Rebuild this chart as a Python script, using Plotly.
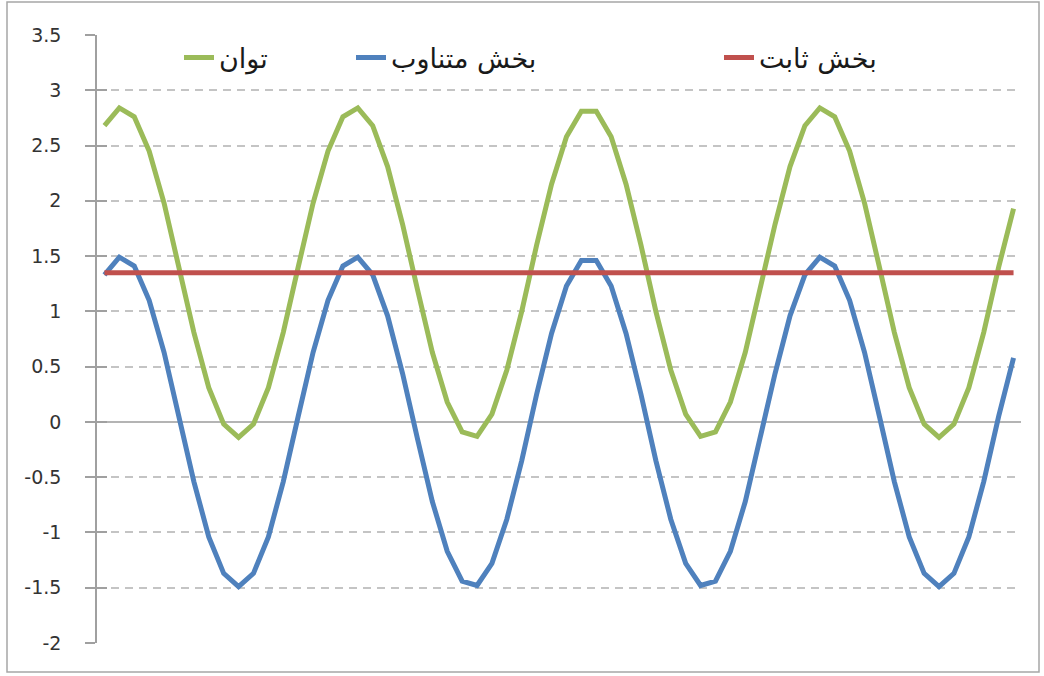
import plotly.graph_objects as go

# 62 equally spaced samples along the horizontal (category) axis
categories = list(range(1, 63))

# alternating part of the power signal
alternating_part = [
    1.33, 1.49, 1.41, 1.10, 0.63, 0.05, -0.54, -1.04, -1.37, -1.49,
    -1.37, -1.04, -0.54, 0.05, 0.63, 1.10, 1.41, 1.49, 1.33, 0.96,
    0.44, -0.15, -0.72, -1.17, -1.44, -1.48, -1.28, -0.88, -0.35, 0.25,
    0.80, 1.23, 1.46, 1.46, 1.23, 0.80, 0.25, -0.35, -0.88, -1.28,
    -1.48, -1.44, -1.17, -0.72, -0.15, 0.44, 0.96, 1.33, 1.49, 1.41,
    1.10, 0.63, 0.05, -0.54, -1.04, -1.37, -1.49, -1.37, -1.04, -0.54,
    0.05, 0.58,
]

# total instantaneous power
power = [
    2.68, 2.84, 2.76, 2.45, 1.98, 1.40, 0.81, 0.31, -0.02, -0.14,
    -0.02, 0.31, 0.81, 1.40, 1.98, 2.45, 2.76, 2.84, 2.68, 2.31,
    1.79, 1.20, 0.63, 0.18, -0.09, -0.13, 0.07, 0.47, 1.00, 1.60,
    2.15, 2.58, 2.81, 2.81, 2.58, 2.15, 1.60, 1.00, 0.47, 0.07,
    -0.13, -0.09, 0.18, 0.63, 1.20, 1.79, 2.31, 2.68, 2.84, 2.76,
    2.45, 1.98, 1.40, 0.81, 0.31, -0.02, -0.14, -0.02, 0.31, 0.81,
    1.40, 1.93,
]

# constant (average) part
constant_part = [
    1.35, 1.35, 1.35, 1.35, 1.35, 1.35, 1.35, 1.35, 1.35, 1.35,
    1.35, 1.35, 1.35, 1.35, 1.35, 1.35, 1.35, 1.35, 1.35, 1.35,
    1.35, 1.35, 1.35, 1.35, 1.35, 1.35, 1.35, 1.35, 1.35, 1.35,
    1.35, 1.35, 1.35, 1.35, 1.35, 1.35, 1.35, 1.35, 1.35, 1.35,
    1.35, 1.35, 1.35, 1.35, 1.35, 1.35, 1.35, 1.35, 1.35, 1.35,
    1.35, 1.35, 1.35, 1.35, 1.35, 1.35, 1.35, 1.35, 1.35, 1.35,
    1.35, 1.35,
]

series_names = ["توان", "بخش متناوب", "بخش ثابت"]
series_colors = ["#9BBB59", "#4F81BD", "#C0504D"]

y_tick_values = [-2, -1.5, -1, -0.5, 0, 0.5, 1, 1.5, 2, 2.5, 3, 3.5]
y_tick_labels = ["-2", "-1.5", "-1", "-0.5", "0", "0.5", "1", "1.5", "2", "2.5", "3", "3.5"]

W, H = 1044, 676
M_L, M_R, M_T, M_B = 97, 23, 35, 33
plot_w = W - M_L - M_R
plot_h = H - M_T - M_B


def px_x(px):
    return (px - M_L) / plot_w


def px_y(py):
    return (H - M_B - py) / plot_h


fig = go.Figure()

series = [power, alternating_part, constant_part]
legend_ids = ["legend", "legend2", "legend3"]
for name, values, color, lid in zip(series_names, series, series_colors, legend_ids):
    fig.add_trace(go.Scatter(
        x=categories, y=values, name=name, mode="lines",
        line=dict(color=color, width=5),
        legend=lid, showlegend=True,
    ))

legend_font = dict(family="DejaVu Sans", size=27, color="#1a1a1a")
legend_common = dict(
    orientation="h", yanchor="middle", xanchor="left",
    bgcolor="rgba(0,0,0,0)", borderwidth=0, font=legend_font,
)
legend_text_left = [218, 390, 758]

fig.update_layout(
    width=W, height=H,
    margin=dict(l=M_L, r=M_R, t=M_T, b=M_B),
    paper_bgcolor="white", plot_bgcolor="white",
    legend=dict(x=px_x(legend_text_left[0] - 39), y=px_y(58), **legend_common),
    legend2=dict(x=px_x(legend_text_left[1] - 39), y=px_y(58), **legend_common),
    legend3=dict(x=px_x(legend_text_left[2] - 39), y=px_y(58), **legend_common),
    xaxis=dict(
        range=[0.5, len(categories) + 0.5],
        showgrid=False, zeroline=False, showline=False,
        showticklabels=False, ticks="",
    ),
    yaxis=dict(
        range=[-2, 3.5],
        tickmode="array", tickvals=y_tick_values, ticktext=y_tick_labels,
        showgrid=True, gridcolor="#C4C4C4", gridwidth=1.5, griddash="8px,6px",
        zeroline=True, zerolinecolor="#B4B4B4", zerolinewidth=2,
        showline=True, linecolor="#A0A0A0", linewidth=1.5,
        ticks="outside", ticklen=10, tickcolor="#A0A0A0", tickwidth=1.5,
        ticklabelstandoff=20,
        tickfont=dict(family="DejaVu Sans", size=19, color="#333333"),
    ),
    yaxis2=dict(
        range=[-2, 3.5], overlaying="y", side="left", anchor="x",
        tickmode="array", tickvals=y_tick_values,
        showgrid=False, zeroline=False, showline=False,
        showticklabels=False,
        ticks="inside", ticklen=10, tickcolor="#A0A0A0", tickwidth=1.5,
    ),
    shapes=[dict(
        type="rect", xref="paper", yref="paper",
        x0=px_x(7), x1=px_x(1039), y0=px_y(672), y1=px_y(2),
        line=dict(color="#A6A6A6", width=1.5), fillcolor="rgba(0,0,0,0)",
        layer="below",
    )],
)

# invisible companion trace so the second y-axis (inside tick marks) is drawn
fig.add_trace(go.Scatter(
    x=[categories[0]], y=[y_tick_values[0]], yaxis="y2", mode="markers",
    marker=dict(opacity=0), showlegend=False, hoverinfo="skip",
))

fig.write_html("out.html")
